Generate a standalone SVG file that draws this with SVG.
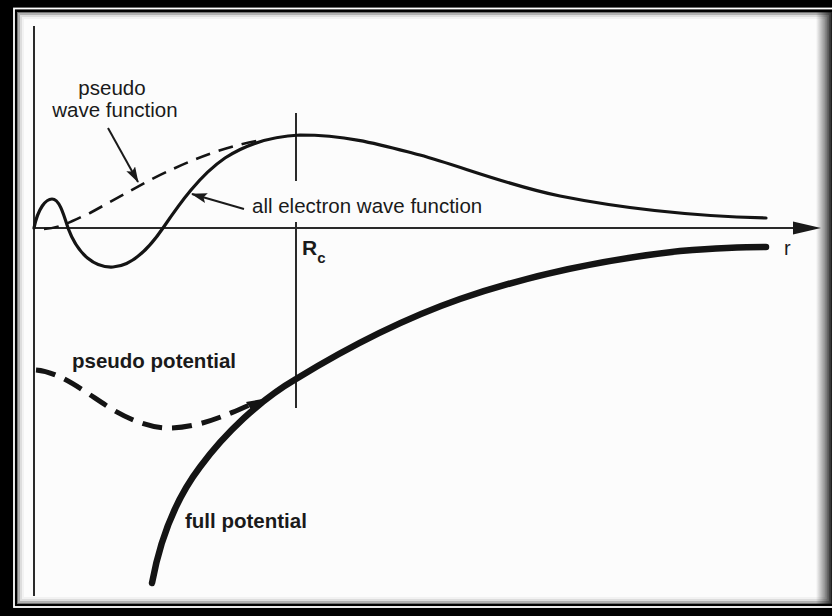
<svg xmlns="http://www.w3.org/2000/svg" width="832" height="616" viewBox="0 0 832 616">
  <defs>
    <style>
      .txt { font-family: "Liberation Sans", Arial, Helvetica, sans-serif; fill: #1a1a1a; }
      .reg { font-size: 20.5px; font-weight: normal; }
      .bold { font-size: 20.5px; font-weight: bold; }
      .axis { stroke: #2a2a2a; stroke-width: 2; fill: none; }
      .solid { stroke: #141414; fill: none; stroke-linecap: round; stroke-linejoin: round; }
      .dash { stroke: #141414; fill: none; }
      .ptr { stroke: #1a1a1a; stroke-width: 2; fill: none; }
    </style>
    <marker id="head" markerWidth="10" markerHeight="8" refX="9" refY="4" orient="auto" markerUnits="userSpaceOnUse">
      <path d="M0,0 L10,4 L0,8 Z" fill="#1a1a1a"/>
    </marker>
    <marker id="ahead" markerWidth="16" markerHeight="10" refX="15" refY="5" orient="auto" markerUnits="userSpaceOnUse">
      <path d="M0,0 L16,5 L0,10 L3,5 Z" fill="#1a1a1a"/>
    </marker>
    <linearGradient id="rshade" x1="0" y1="0" x2="1" y2="0">
      <stop offset="0" stop-color="#000" stop-opacity="0"/>
      <stop offset="1" stop-color="#000" stop-opacity="0.75"/>
    </linearGradient>
  </defs>

  <!-- frame -->
  <g id="frame">
    <rect x="0" y="0" width="832" height="616" fill="#000"/>
    <rect x="14" y="8.5" width="830" height="598.5" fill="none" stroke="#fff" stroke-width="1.8"/>
    <rect x="17" y="12" width="815" height="592" fill="#fcfcfc"/>
    <rect x="17.5" y="12.5" width="814" height="591" fill="none" stroke="#000" stroke-opacity="0.55" stroke-width="1"/>
    <rect x="19" y="14" width="811" height="588" fill="none" stroke="#000" stroke-opacity="0.3" stroke-width="2"/>
    <rect x="21" y="16" width="807" height="584" fill="none" stroke="#000" stroke-opacity="0.12" stroke-width="2"/>
    <rect x="23" y="18" width="803" height="580" fill="none" stroke="#000" stroke-opacity="0.04" stroke-width="2"/>
    <rect x="816" y="12" width="16" height="592" fill="url(#rshade)"/>
  </g>

  <!-- axes -->
  <g id="axes">
    <line class="axis" x1="34" y1="26" x2="34" y2="596"/>
    <line class="axis" x1="34" y1="228" x2="796" y2="228"/>
    <path d="M793,221.5 L821,228 L793,234.5 Z" fill="#1a1a1a"/>
    <line class="axis" x1="296" y1="113" x2="296" y2="181"/>
    <line class="axis" x1="296" y1="222" x2="296" y2="408"/>
  </g>

  <!-- curves -->
  <g id="curves">
    <path id="all-electron-wf" class="solid" stroke-width="3.2"
      d="M34,228 C38,208 46,199 52,199 C59,199 63,212 68,228 C78,255 95,268 113,267 C132,266 148,250 163,228 C180,203 200,175 225,158 C250,142 275,136 300,135 C350,135 385,146 420,155 C460,166 510,186 560,196 C620,208 690,216 766,218"/>
    <path id="pseudo-wf" class="dash" stroke-width="2.6" stroke-dasharray="15 9"
      d="M44,229 C60,228 70,222 90,213 L150,180 C190,160 225,146 262,140"/>
    <path id="full-potential" class="solid" stroke-width="6.5" stroke-linecap="butt"
      d="M152,583 C160,540 175,500 200,467 C225,433 260,400 296,379 C340,352 400,320 460,299 C530,275 600,260 680,251 C720,248 745,247 766,247"/>
    <path id="pseudo-potential" class="dash" stroke-width="5" stroke-dasharray="20 10"
      d="M36,370 C60,372 82,390 110,408 C130,420 150,428 168,428 C200,428 228,414 252,404"/>
    <path d="M246,402 L268,398 L252,411 Z" fill="#141414"/>
  </g>

  <!-- connectors (label pointers) -->
  <g id="connectors">
    <line class="ptr" x1="108" y1="128" x2="138" y2="182" marker-end="url(#ahead)"/>
    <line class="ptr" x1="244" y1="209" x2="192" y2="194" marker-end="url(#ahead)"/>
  </g>

  <!-- labels -->
  <g id="label-pseudo-wf">
    <text class="txt reg" x="112" y="95" text-anchor="middle">pseudo</text>
    <text class="txt reg" x="115" y="117" text-anchor="middle">wave function</text>
  </g>
  <g id="label-all-electron">
    <text class="txt reg" x="252" y="213">all electron wave function</text>
  </g>
  <g id="label-rc">
    <text class="txt" x="302" y="255" font-size="21" font-weight="bold">R<tspan font-size="15" dy="8">c</tspan></text>
  </g>
  <g id="label-r">
    <text class="txt" x="784" y="255" font-size="20">r</text>
  </g>
  <g id="label-pseudo-potential">
    <text class="txt bold" x="72" y="368">pseudo potential</text>
  </g>
  <g id="label-full-potential">
    <text class="txt bold" x="185" y="528">full potential</text>
  </g>
</svg>
